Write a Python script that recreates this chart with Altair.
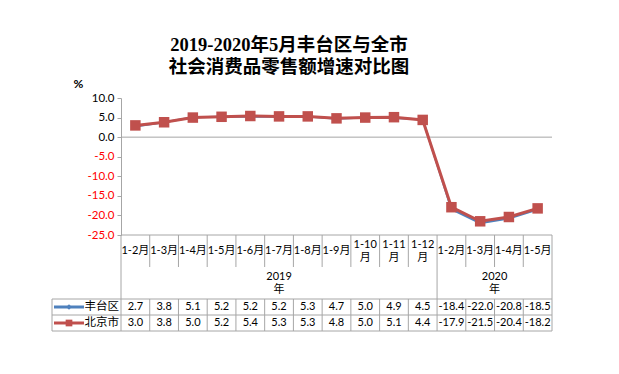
import altair as alt
import pandas as pd

# ---------------- data ----------------
categories = ["1-2月", "1-3月", "1-4月", "1-5月", "1-6月", "1-7月", "1-8月", "1-9月",
              "1-10\n月", "1-11\n月", "1-12\n月", "1-2月", "1-3月", "1-4月", "1-5月"]
years = ["2019\n年", "2020\n年"]
year_spans = [(0, 10), (11, 14)]
fengtai = [2.7, 3.8, 5.1, 5.2, 5.2, 5.2, 5.3, 4.7, 5.0, 4.9, 4.5, -18.4, -22.0, -20.8, -18.5]
beijing = [3.0, 3.8, 5.0, 5.2, 5.4, 5.3, 5.3, 4.8, 5.0, 5.1, 4.4, -17.9, -21.5, -20.4, -18.2]
series_names = ["丰台区", "北京市"]
y_ticks = [10, 5, 0, -5, -10, -15, -20, -25]
title_lines = ["2019-2020年5月丰台区与全市", "社会消费品零售额增速对比图"]

BLUE = "#4F81BD"
RED = "#C0504D"
GRID = "#A6A6A6"
FONT = "Lato, 'Noto Sans CJK SC'"
TFONT = "'Liberation Serif', 'Noto Sans CJK SC'"
W, H_PLOT, H_TAB = 431, 137, 96

n = len(categories)
idx = list(range(n))
df_ft = pd.DataFrame({"idx": idx, "value": fengtai})
df_bj = pd.DataFrame({"idx": idx, "value": beijing})

xscale = alt.Scale(domain=[-0.5, n - 0.5], nice=False, zero=False)
yscale = alt.Scale(domain=[-25, 10], nice=False, zero=False)

label_color = {"condition": {"test": "datum.value < 0", "value": "#FF0000"}, "value": "black"}

x_enc = alt.X("idx:Q", scale=xscale, axis=None)
y_axis = alt.Axis(values=y_ticks, grid=False, domainColor=GRID, tickColor=GRID, tickSize=4,
                  labelPadding=3, labelFont=FONT, labelFontSize=11.5, labelColor=label_color,
                  labelOverlap=False, labelBound=False,
                  labelExpr="(datum.value < 0 ? '-' : '') + format(abs(datum.value), '.1f')",
                  title="%", titleAngle=0, titleX=-48, titleY=-15, titleAlign="left",
                  titleBaseline="middle", titleFont=FONT, titleFontSize=12, titleFontWeight="bold")
y_enc = alt.Y("value:Q", scale=yscale, axis=y_axis)

zero = alt.Chart(pd.DataFrame({"value": [0]})).mark_rule(color=GRID, strokeWidth=1).encode(y=y_enc)

line_ft = alt.Chart(df_ft).mark_line(color=BLUE, strokeWidth=2).encode(x=x_enc, y=y_enc)
pts_ft = alt.Chart(df_ft).mark_point(shape="diamond", filled=True, color=BLUE, size=30, opacity=1).encode(
    x=x_enc, y=y_enc)
line_bj = alt.Chart(df_bj).mark_line(color=RED, strokeWidth=3).encode(x=x_enc, y=y_enc)
pts_bj = alt.Chart(df_bj).mark_point(shape="square", filled=True, color=RED, size=110, opacity=1).encode(
    x=x_enc, y=y_enc)

top = alt.layer(zero, line_ft, pts_ft, line_bj, pts_bj).properties(width=W, height=H_PLOT)

# ---------------- table ----------------
tscale_y = alt.Scale(domain=[0, 6], reverse=True, nice=False, zero=False)
ty = lambda f: alt.Y(f, scale=tscale_y, axis=None)
tx = lambda f: alt.X(f, scale=xscale, axis=None)

# vertical lines
vrows = []
for k in range(n - 1):
    b = k + 0.5
    if k == year_spans[0][1]:
        vrows.append({"x": b, "y": 0, "y2": 6})
    else:
        vrows.append({"x": b, "y": 0, "y2": 2})
        vrows.append({"x": b, "y": 4, "y2": 6})
vrows.append({"x": -0.5, "y": 0, "y2": 6})
vrows.append({"x": n - 0.5, "y": 0, "y2": 6})
vlines = alt.Chart(pd.DataFrame(vrows)).mark_rule(color=GRID, strokeWidth=1).encode(
    x=tx("x:Q"), y=ty("y:Q"), y2="y2:Q")

top_line = alt.Chart(pd.DataFrame({"y": [0]})).mark_rule(color=GRID, strokeWidth=1).encode(y=ty("y:Q"))
hlines = alt.Chart(pd.DataFrame({"y": [4, 5, 6]})).mark_rule(color=GRID, strokeWidth=1).encode(
    y=ty("y:Q"), x=alt.value(-69), x2=alt.value("width"))
left_border = alt.Chart(pd.DataFrame({"y": [4], "y2": [6]})).mark_rule(color=GRID, strokeWidth=1).encode(
    y=ty("y:Q"), y2="y2:Q", x=alt.value(-69))

one_line = [i for i, c in enumerate(categories) if "\n" not in c]
two_line = [i for i, c in enumerate(categories) if "\n" in c]
cat1_df = pd.DataFrame({"idx": one_line, "label": [categories[i] for i in one_line], "row": 1})
cat2_df = pd.DataFrame({"idx": two_line, "label": [categories[i] for i in two_line], "row": 1})
cat1_text = alt.Chart(cat1_df).mark_text(font=FONT, fontSize=11, baseline="middle", color="black").encode(
    x=tx("idx:Q"), y=ty("row:Q"), text="label:N")
cat2_text = alt.Chart(cat2_df).mark_text(font=FONT, fontSize=11, lineBreak="\n", lineHeight=13,
                                         baseline="middle", dy=-6.5, color="black").encode(
    x=tx("idx:Q"), y=ty("row:Q"), text="label:N")

year_df = pd.DataFrame({"idx": [(a + b) / 2 for a, b in year_spans], "label": years, "row": [3, 3]})
year_text = alt.Chart(year_df).mark_text(font=FONT, fontSize=11, lineBreak="\n", lineHeight=13,
                                         baseline="middle", dy=-6.5, color="black").encode(
    x=tx("idx:Q"), y=ty("row:Q"), text="label:N")

val_df = pd.DataFrame({
    "idx": idx + idx,
    "row": [4.5] * n + [5.5] * n,
    "val": [f"{v:.1f}" for v in fengtai] + [f"{v:.1f}" for v in beijing],
})
val_text = alt.Chart(val_df).mark_text(font=FONT, fontSize=11, baseline="middle", color="black").encode(
    x=tx("idx:Q"), y=ty("row:Q"), text="val:N")

row_df = pd.DataFrame({"row": [4.5, 5.5], "name": series_names, "color": [BLUE, RED]})
row_text = alt.Chart(row_df).mark_text(font=FONT, fontSize=11.5, align="right", baseline="middle",
                                       color="black", dx=-2).encode(
    x=alt.value(0), y=ty("row:Q"), text="name:N")
leg_line = alt.Chart(row_df).mark_rule(strokeWidth=3).encode(
    y=ty("row:Q"), x=alt.value(-67), x2=alt.value(-37),
    color=alt.Color("color:N", scale=None))
leg_ft = alt.Chart(row_df.iloc[[0]]).mark_point(shape="diamond", filled=True, color=BLUE, size=30,
                                                  opacity=1).encode(y=ty("row:Q"), x=alt.value(-52))
leg_bj = alt.Chart(row_df.iloc[[1]]).mark_point(shape="square", filled=True, color=RED, size=45,
                                                  opacity=1).encode(y=ty("row:Q"), x=alt.value(-52))

table = alt.layer(vlines, top_line, hlines, left_border, cat1_text, cat2_text, year_text, val_text,
                  leg_line, leg_ft, leg_bj, row_text).properties(width=W, height=H_TAB)

chart = alt.vconcat(top, table, spacing=0, bounds="flush").properties(
    title=alt.Title(title_lines[0], subtitle=title_lines[1],
                    font=TFONT, fontSize=18.5, fontWeight="bold", color="black",
                    subtitleFont=TFONT, subtitleFontSize=18.5, subtitleFontWeight="bold",
                    subtitleColor="black", subtitlePadding=3.5,
                    anchor="middle", dx=-13, offset=1),
    padding={"left": 43, "top": 27, "right": 5, "bottom": 5},
).configure_view(strokeWidth=0)

chart.save("out.html", embed_options={"renderer": "svg", "actions": False})
